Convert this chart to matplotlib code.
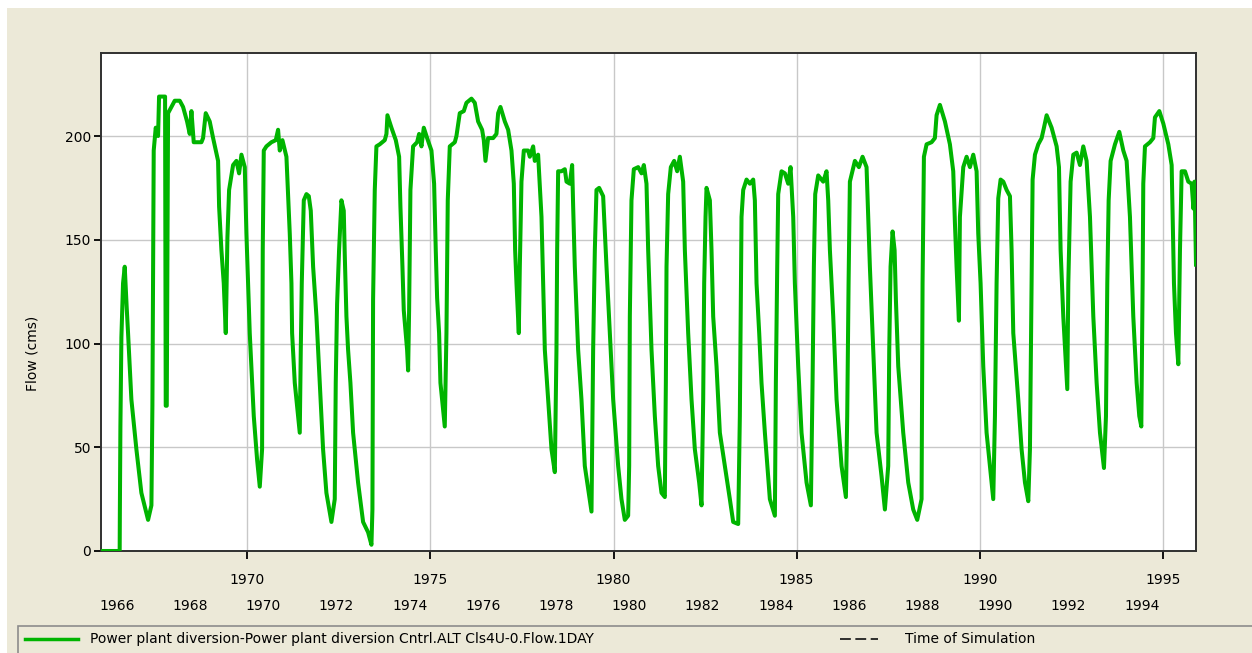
import matplotlib
matplotlib.use('Agg')
import matplotlib.pyplot as plt
from matplotlib.patches import Rectangle
from matplotlib.lines import Line2D
from matplotlib.transforms import blended_transform_factory

# daily flow record, sampled as (decimal year, flow in cms) breakpoints
years = [
    1966.000, 1966.510, 1966.515, 1966.530, 1966.557, 1966.602, 1966.648, 1966.700, 1966.739, 1966.830,
    1966.967, 1967.103, 1967.286, 1967.377, 1967.404, 1967.440, 1967.495, 1967.559, 1967.586, 1967.750,
    1967.768, 1967.796, 1967.832, 1968.014, 1968.151, 1968.242, 1968.351, 1968.424, 1968.470, 1968.533,
    1968.743, 1968.788, 1968.861, 1968.970, 1969.062, 1969.198, 1969.226, 1969.289, 1969.353, 1969.408,
    1969.453, 1969.499, 1969.608, 1969.699, 1969.772, 1969.836, 1969.927, 1969.972, 1970.063, 1970.173,
    1970.264, 1970.337, 1970.400, 1970.418, 1970.446, 1970.518, 1970.655, 1970.774, 1970.837, 1970.883,
    1970.956, 1971.065, 1971.156, 1971.202, 1971.220, 1971.293, 1971.384, 1971.429, 1971.457, 1971.484,
    1971.539, 1971.612, 1971.676, 1971.730, 1971.794, 1971.885, 1971.976,
    1972.066, 1972.157, 1972.294, 1972.385, 1972.412, 1972.449, 1972.503, 1972.567, 1972.631, 1972.658,
    1972.704, 1972.749, 1972.813, 1972.886, 1973.022, 1973.159, 1973.296, 1973.387, 1973.414, 1973.432,
    1973.478, 1973.523, 1973.614, 1973.751, 1973.797, 1973.824, 1973.933, 1974.052, 1974.143, 1974.179,
    1974.234, 1974.270, 1974.361, 1974.389, 1974.416, 1974.452, 1974.525, 1974.634, 1974.689, 1974.753,
    1974.817, 1974.908, 1975.026, 1975.099, 1975.144, 1975.181, 1975.235, 1975.272, 1975.345, 1975.390,
    1975.436, 1975.472, 1975.527, 1975.664, 1975.709, 1975.800, 1975.909, 1975.982, 1976.119, 1976.210,
    1976.301, 1976.410, 1976.456, 1976.502, 1976.574, 1976.711, 1976.802, 1976.848, 1976.911, 1977.030,
    1977.121, 1977.212, 1977.276, 1977.312, 1977.349, 1977.412, 1977.440, 1977.485, 1977.549, 1977.667,
    1977.713, 1977.804, 1977.849, 1977.940,
    1978.032, 1978.077, 1978.123, 1978.214, 1978.305, 1978.396, 1978.441, 1978.460, 1978.487, 1978.578,
    1978.669, 1978.715, 1978.806, 1978.869, 1978.897, 1978.942, 1979.033, 1979.124, 1979.215, 1979.307,
    1979.398, 1979.443, 1979.489, 1979.534, 1979.607, 1979.716, 1979.808, 1979.899, 1979.990, 1980.126,
    1980.217, 1980.308, 1980.399, 1980.427, 1980.445, 1980.490, 1980.554, 1980.673, 1980.764, 1980.828,
    1980.900, 1980.946, 1981.037, 1981.128, 1981.219, 1981.310, 1981.401, 1981.429, 1981.447, 1981.492,
    1981.565, 1981.656, 1981.738, 1981.811, 1981.902, 1981.948, 1982.039, 1982.130, 1982.221, 1982.339,
    1982.403, 1982.449, 1982.476, 1982.513, 1982.540, 1982.631, 1982.676, 1982.722, 1982.813, 1982.904,
    1983.041, 1983.177, 1983.268, 1983.405, 1983.450, 1983.496, 1983.542, 1983.633, 1983.724, 1983.815,
    1983.860, 1983.906, 1983.979, 1984.042, 1984.134,
    1984.270, 1984.407, 1984.434, 1984.471, 1984.498, 1984.589, 1984.680, 1984.771, 1984.835, 1984.908,
    1984.953, 1985.044, 1985.135, 1985.272, 1985.390, 1985.436, 1985.472, 1985.509, 1985.591, 1985.727,
    1985.818, 1985.864, 1985.910, 1986.001, 1986.092, 1986.228, 1986.347, 1986.383, 1986.420, 1986.456,
    1986.593, 1986.702, 1986.802, 1986.911, 1986.957, 1987.002, 1987.094, 1987.185, 1987.321, 1987.412,
    1987.503, 1987.531, 1987.567, 1987.622, 1987.677, 1987.713, 1987.777, 1987.913, 1988.050, 1988.186,
    1988.296, 1988.414, 1988.441, 1988.478, 1988.551, 1988.687, 1988.778, 1988.824, 1988.915, 1989.052,
    1989.188, 1989.279, 1989.325, 1989.370, 1989.434, 1989.461, 1989.553, 1989.644, 1989.735, 1989.826,
    1989.917, 1989.962, 1990.026, 1990.099,
    1990.190, 1990.281, 1990.372, 1990.418, 1990.463, 1990.509, 1990.573, 1990.646, 1990.737, 1990.828,
    1990.873, 1990.919, 1991.055, 1991.146, 1991.238, 1991.329, 1991.374, 1991.420, 1991.447, 1991.511,
    1991.602, 1991.693, 1991.757, 1991.830, 1991.966, 1992.103, 1992.167, 1992.212, 1992.285, 1992.394,
    1992.422, 1992.485, 1992.558, 1992.649, 1992.740, 1992.831, 1992.922, 1993.014, 1993.105, 1993.196,
    1993.287, 1993.396, 1993.451, 1993.487, 1993.524, 1993.578, 1993.697, 1993.815, 1993.924, 1994.015,
    1994.106, 1994.197, 1994.289, 1994.361, 1994.416, 1994.452, 1994.470, 1994.516, 1994.653, 1994.744,
    1994.789, 1994.908, 1995.017, 1995.154, 1995.245, 1995.272, 1995.308, 1995.363, 1995.427, 1995.472,
    1995.518, 1995.609, 1995.700, 1995.791, 1995.840, 1995.870, 1995.910,
]
flow = [
    0, 0, 18, 60, 103, 129, 137, 118, 105, 73,
    49, 28, 15, 22, 70, 193, 204, 200, 219, 219,
    70, 70, 211, 217, 217, 214, 207, 201, 212, 197,
    197, 199, 211, 207, 199, 188, 166, 145, 129, 105,
    151, 174, 186, 188, 182, 191, 185, 153, 105, 65,
    44, 31, 49, 145, 193, 195, 197, 198, 203, 193,
    198, 190, 153, 129, 105, 81, 65, 57, 97, 129,
    169, 172, 171, 164, 137, 113, 81,
    49, 28, 14, 25, 81, 119, 145, 169, 164, 143,
    113, 97, 81, 57, 33, 14, 9, 3, 20, 121,
    174, 195, 196, 198, 201, 210, 204, 198, 190, 166,
    137, 116, 97, 87, 116, 174, 195, 197, 201, 195,
    204, 199, 193, 177, 145, 122, 105, 81, 68, 60,
    105, 169, 195, 197, 200, 211, 212, 216, 218, 216,
    207, 203, 198, 188, 199, 199, 201, 211, 214, 207,
    203, 193, 177, 145, 129, 105, 137, 178, 193, 193,
    190, 195, 188, 191,
    161, 129, 97, 73, 49, 38, 97, 145, 183, 183,
    184, 178, 177, 186, 166, 137, 97, 73, 41, 30,
    19, 97, 145, 174, 175, 171, 137, 105, 73, 41,
    25, 15, 17, 41, 113, 169, 184, 185, 182, 186,
    177, 145, 97, 65, 41, 28, 26, 81, 137, 172,
    185, 188, 183, 190, 178, 145, 105, 73, 49, 33,
    22, 73, 129, 161, 175, 169, 145, 113, 89, 57,
    41, 25, 14, 13, 65, 161, 174, 179, 177, 179,
    169, 129, 105, 81, 57,
    25, 17, 81, 137, 172, 183, 182, 177, 185, 161,
    129, 89, 57, 33, 22, 81, 137, 172, 181, 178,
    183, 169, 145, 113, 73, 41, 26, 65, 129, 178,
    188, 185, 190, 185, 161, 137, 97, 57, 36, 20,
    41, 97, 137, 154, 145, 121, 89, 57, 33, 20,
    15, 25, 129, 190, 196, 197, 199, 210, 215, 207,
    196, 183, 158, 137, 111, 161, 185, 190, 185, 191,
    183, 153, 129, 89,
    57, 41, 25, 65, 129, 170, 179, 178, 174, 171,
    145, 105, 73, 49, 33, 24, 49, 129, 179, 191,
    196, 199, 204, 210, 204, 195, 185, 145, 113, 78,
    129, 178, 191, 192, 186, 195, 188, 161, 113, 81,
    57, 40, 65, 129, 169, 188, 196, 202, 193, 188,
    161, 113, 81, 65, 60, 129, 177, 195, 197, 199,
    209, 212, 206, 196, 186, 161, 129, 105, 90, 145,
    183, 183, 178, 177, 165, 178, 138,
]

major_years = [1970, 1975, 1980, 1985, 1990, 1995]
wy_years = [1966, 1968, 1970, 1972, 1974, 1976, 1978, 1980, 1982, 1984, 1986, 1988, 1990, 1992, 1994]
flow_ticks = [0, 50, 100, 150, 200]
series_name = 'Power plant diversion-Power plant diversion Cntrl.ALT Cls4U-0.Flow.1DAY'
sim_name = 'Time of Simulation'

W, H = 1252, 653
BEIGE = '#ECE9D8'
GREEN = '#00B400'
FS = 10

plt.rcParams['font.family'] = ['DejaVu Sans']

fig = plt.figure(figsize=(W / 100, H / 100), dpi=100, facecolor='white')
fig.patches.append(Rectangle((7 / W, 0), 1, 1 - 8 / H, transform=fig.transFigure,
                             facecolor=BEIGE, edgecolor='none', zorder=-10))

ax = fig.add_axes([101 / W, 102 / H, 1095 / W, 498 / H])
ax.set_facecolor('white')
ax.plot(years, flow, color=GREEN, lw=2.9, solid_joinstyle='round', zorder=3)

ax.set_xlim(1966.0, 1995.91)
ax.set_ylim(0, 240)
ax.set_xticks(major_years)
ax.set_xticklabels([str(y) for y in major_years])
ax.set_yticks(flow_ticks)
ax.grid(True, color='#C8C8C8', lw=1.0, zorder=0)
ax.set_axisbelow(True)
for s in ax.spines.values():
    s.set_color('#303030')
    s.set_linewidth(1.4)
ax.tick_params(axis='y', length=5, width=1.3, pad=2, labelsize=FS, colors='black')
ax.tick_params(axis='x', length=6, width=1.3, pad=10, labelsize=FS, colors='black')

# second row of year labels under the date ticks
trans = blended_transform_factory(ax.transData, ax.transAxes)
for y in wy_years:
    ax.text(y + 0.43, -0.110, str(y), transform=trans, ha='center', va='center',
            fontsize=FS, clip_on=False)

fig.text(33 / W, 1 - 353 / H, 'Flow (cms)', rotation=90, ha='center', va='center', fontsize=FS)

# legend strip at the bottom
fig.patches.append(Rectangle((18 / W, -0.05), 1.1, 0.05 + (653 - 626) / H, transform=fig.transFigure,
                             facecolor=BEIGE, edgecolor='#8C8C8C', lw=1.2))
ly = 1 - 639 / H
fig.lines.append(Line2D([25 / W, 78 / W], [ly, ly], transform=fig.transFigure, color=GREEN, lw=2.5))
fig.text(90 / W, ly, series_name, ha='left', va='center', fontsize=FS)
fig.lines.append(Line2D([840 / W, 878 / W], [ly, ly], transform=fig.transFigure, color='#202020',
                        lw=1.3, linestyle=(0, (6, 2.5))))
fig.text(905 / W, ly, sim_name, ha='left', va='center', fontsize=FS)

fig.savefig('out.png', dpi=100, facecolor=fig.get_facecolor())
